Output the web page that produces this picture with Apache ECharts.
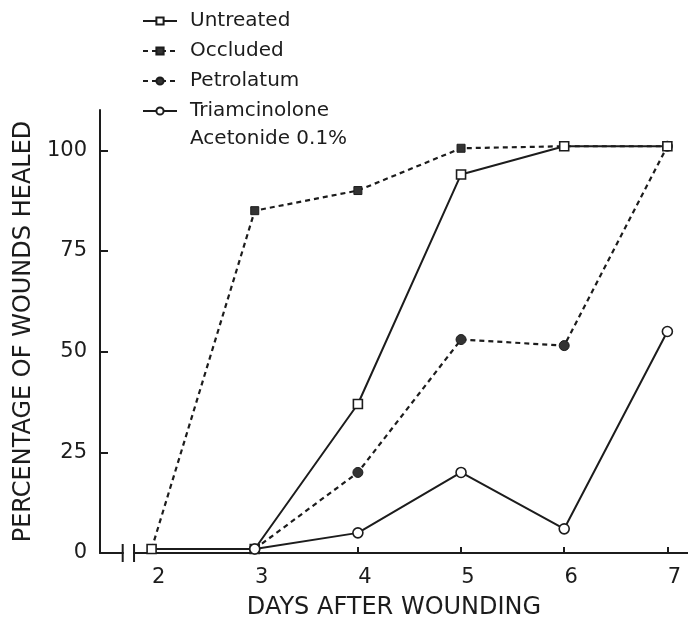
<!DOCTYPE html>
<html>
<head>
<meta charset="utf-8">
<script src="https://cdn.jsdelivr.net/npm/echarts@6/dist/echarts.min.js"></script>
<style>
html,body{margin:0;padding:0;background:#fff;}
#c{width:688px;height:629px;}
</style>
</head>
<body>
<div id="c"></div>
<script>
var days = [2, 3, 4, 5, 6, 7];
var untreated = [1, 1, 37, 94, 101, 101];
var occluded = [1, 85, 90, 100.5, 101, 101];
var petrolatum = [null, 1, 20, 53, 51.5, 101];
var triamcinolone = [null, 1, 5, 20, 6, 55];
var yTicks = [0, 25, 50, 75, 100];
var seriesNames = ['Untreated', 'Occluded', 'Petrolatum', 'Triamcinolone Acetonide 0.1%'];

var INK = '#1c1c1c';
var FONT = 'DejaVu Sans';

function pairs(vals) {
  return days.map(function (d, i) { return [d, vals[i]]; }).filter(function (p) { return p[1] !== null; });
}

var legendText = { fontFamily: FONT, fontSize: 20, color: INK, lineHeight: 28, padding: [0, 0, 0, 8] };

var chart = echarts.init(document.getElementById('c'));
chart.setOption({
  backgroundColor: '#ffffff',
  animation: false,
  textStyle: { fontFamily: FONT, color: INK },
  grid: { left: 100, right: 0, top: 110, bottom: 76 },
  legend: [
    {
      orient: 'vertical', left: 137, top: 2,
      itemWidth: 34, itemHeight: 9, itemGap: 2,
      textStyle: legendText,
      data: seriesNames.slice(0, 3)
    },
    {
      orient: 'vertical', left: 137, top: 68,
      itemWidth: 34, itemHeight: 9, itemGap: 2,
      textStyle: {
        fontFamily: FONT, fontSize: 20, color: INK, padding: [0, 0, 0, 8],
        rich: {
          s: { fontSize: 20, lineHeight: 28 },
          t: { fontFamily: FONT, fontSize: 20, color: INK, lineHeight: 28 }
        }
      },
      data: seriesNames.slice(3),
      formatter: function (n) {
        var parts = n.split(' Acetonide');
        return '{s| }\n{t|' + parts[0] + '}\n{t|Acetonide' + parts[1] + '}';
      }
    }
  ],
  xAxis: {
    type: 'value',
    min: 1.5,
    max: 7.2,
    name: 'DAYS AFTER WOUNDING',
    nameLocation: 'middle',
    nameGap: 43,
    nameTextStyle: { fontFamily: FONT, fontSize: 24, color: INK },
    splitLine: { show: false },
    axisLine: { show: true, lineStyle: { color: INK, width: 2 } },
    axisTick: { show: true, inside: true, length: 6, lineStyle: { color: INK, width: 2 }, customValues: days },
    axisLabel: { fontFamily: FONT, fontSize: 21, color: INK, margin: 14, padding: [0, 0, 0, 14], customValues: days }
  },
  yAxis: {
    type: 'value',
    min: 0,
    max: 110,
    name: 'PERCENTAGE OF WOUNDS HEALED',
    nameLocation: 'middle',
    nameGap: 62,
    nameTextStyle: { fontFamily: FONT, fontSize: 24, color: INK },
    splitLine: { show: false },
    axisLine: { show: true, lineStyle: { color: INK, width: 2 } },
    axisTick: { show: true, inside: true, length: 8, lineStyle: { color: INK, width: 2 }, customValues: yTicks },
    axisLabel: { fontFamily: FONT, fontSize: 21, color: INK, margin: 13, customValues: yTicks }
  },
  series: [
    {
      name: seriesNames[0], type: 'line', data: pairs(untreated),
      symbol: 'rect', symbolSize: 9, showAllSymbol: true,
      lineStyle: { color: INK, width: 2, type: 'solid' },
      itemStyle: { color: '#ffffff', borderColor: INK, borderWidth: 1.6 }, z: 3
    },
    {
      name: seriesNames[1], type: 'line', data: pairs(occluded),
      symbol: 'rect', symbolSize: 8,
      lineStyle: { color: INK, width: 2.2, type: [5, 4] },
      itemStyle: { color: '#333', borderColor: INK, borderWidth: 1 }, z: 2
    },
    {
      name: seriesNames[2], type: 'line', data: pairs(petrolatum),
      symbol: 'circle', symbolSize: 10,
      lineStyle: { color: INK, width: 2.2, type: [5, 4] },
      itemStyle: { color: '#333', borderColor: INK, borderWidth: 1 }, z: 2
    },
    {
      name: seriesNames[3], type: 'line', data: pairs(triamcinolone),
      symbol: 'circle', symbolSize: 10,
      lineStyle: { color: INK, width: 2, type: 'solid' },
      itemStyle: { color: '#ffffff', borderColor: INK, borderWidth: 1.6 }, z: 3
    }
  ]
});

// axis break decoration on the x axis near the origin
var p1 = chart.convertToPixel({ gridIndex: 0 }, [1.72, 0]);
var p2 = chart.convertToPixel({ gridIndex: 0 }, [1.83, 0]);
chart.setOption({
  graphic: [
    { type: 'rect', z: 100, shape: { x: p1[0] + 1, y: p1[1] - 3, width: p2[0] - p1[0] - 2, height: 6 }, style: { fill: '#ffffff' } },
    { type: 'line', z: 101, shape: { x1: p1[0], y1: p1[1] - 9, x2: p1[0], y2: p1[1] + 9 }, style: { stroke: INK, lineWidth: 2 } },
    { type: 'line', z: 101, shape: { x1: p2[0], y1: p2[1] - 9, x2: p2[0], y2: p2[1] + 9 }, style: { stroke: INK, lineWidth: 2 } }
  ]
});
</script>
</body>
</html>
